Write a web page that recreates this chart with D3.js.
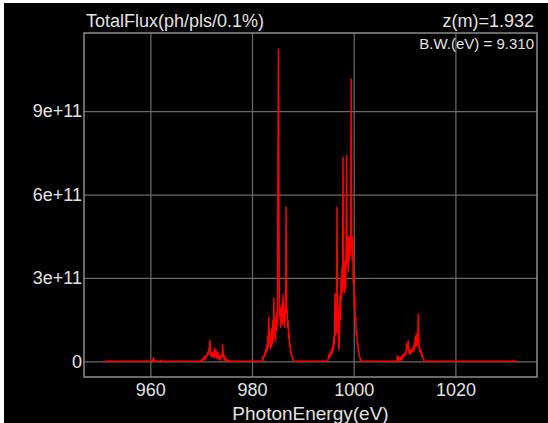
<!DOCTYPE html>
<html>
<head>
<meta charset="utf-8">
<script src="https://cdn.jsdelivr.net/npm/d3@7"></script>
<style>
  html, body { margin: 0; padding: 0; background: #fff; }
  svg { display: block; }
  text { font-family: "Liberation Sans", Arial, Helvetica, sans-serif; fill: #e2e2e2; }
</style>
</head>
<body>
<svg id="chart" width="548" height="423"></svg>
<script>
// photon energy range of the scan (eV)
const energyRange = [951, 1032];
const energyStep = 0.1;

// flux in units of 1e11 ph/pls/0.1%, each block starts at the given energy
const blip960Start = 960.4;
const blip960 = [0, 0.06, 0.14, 0.03, 0];
const blip962Start = 961.9;
const blip962 = [0, 0.03, 0.01, 0];

const peak972Start = 969.9;
const peak972 = [
  0, 0.03, 0.05, 0.04, 0.08, 0.06, 0.12, 0.09, 0.15, 0.1,
  0.2, 0.14, 0.25, 0.18, 0.35, 0.22, 0.45, 0.3, 0.78, 0.4,
  0.2, 0.28, 0.15, 0.33, 0.18, 0.25, 0.12, 0.5, 0.2, 0.15,
  0.43, 0.22, 0.1, 0.18, 0.33, 0.12, 0.08, 0.15, 0.1, 0.2,
  0.12, 0.25, 0.15, 0.62, 0.35, 0.2, 0.1, 0.15, 0.06, 0.1,
  0.04, 0.06, 0.02, 0.04, 0.02, 0.01, 0.02, 0
];

const peak985Start = 981.9;
const peak985 = [
  0, 0.05, 0.12, 0.08, 0.2, 0.15, 0.3, 0.22, 0.45, 0.3,
  0.6, 0.4, 0.9, 0.5, 1.6, 0.7, 1.1, 0.45, 0.8, 0.5,
  1.2, 0.6, 1.5, 0.8, 2.3, 1.0, 1.4, 0.7, 1.6, 1.1,
  1.8, 1.3, 7.1, 11.25, 5.0, 1.6, 2.0, 1.2, 1.9, 1.4,
  2.1, 1.3, 2.4, 1.5, 1.9, 1.2, 1.8, 2.2, 5.56, 1.7,
  1.9, 1.2, 1.5, 0.8, 1.0, 0.5, 0.6, 0.3, 0.35, 0.15,
  0.2, 0.08, 0.06, 0.02, 0
];

const peak999Start = 994.8;
const peak999 = [
  0, 0.05, 0.1, 0.25, 0.12, 0.3, 0.2, 0.35, 0.25, 0.45,
  0.3, 0.6, 0.4, 0.9, 0.6, 2.45, 0.9, 1.5, 1.0, 5.56,
  1.5, 2.0, 0.7, 0.4, 1.2, 2.4, 1.5, 3.0, 2.2, 3.4,
  2.5, 7.36, 2.8, 3.2, 2.45, 3.6, 2.6, 4.0, 7.42, 3.5,
  4.3, 3.2, 4.5, 3.6, 4.5, 3.8, 4.4, 10.18, 4.5, 3.6,
  4.5, 2.8, 3.2, 1.95, 2.4, 1.4, 1.6, 0.9, 1.1, 0.6,
  0.7, 0.35, 0.4, 0.2, 0.15, 0.08, 0.05, 0.02, 0
];

const peak1012Start = 1008.4;
const peak1012 = [
  0, 0.05, 0.22, 0.08, 0.12, 0.05, 0.1, 0.06, 0.12, 0.08,
  0.15, 0.1, 0.18, 0.12, 0.25, 0.18, 0.3, 0.2, 0.35, 0.28,
  0.64, 0.4, 0.5, 0.76, 0.4, 0.3, 0.35, 0.25, 0.4, 0.3,
  0.46, 0.32, 0.42, 0.35, 0.6, 0.4, 0.55, 0.9, 0.5, 1.0,
  0.6, 0.55, 0.8, 1.72, 0.7, 0.55, 0.33, 0.45, 0.3, 0.33,
  0.18, 0.2, 0.1, 0.08, 0.03, 0
];

const xTicks = [960, 980, 1000, 1020];
const yTicks = [0, 3e11, 6e11, 9e11];

const blocks = [
  [blip960Start, blip960], [blip962Start, blip962], [peak972Start, peak972],
  [peak985Start, peak985], [peak999Start, peak999], [peak1012Start, peak1012]
];

let data = [{ e: energyRange[0], f: 0 }];
blocks.forEach(([start, vals]) => {
  vals.forEach((v, i) => data.push({ e: +(start + i * energyStep).toFixed(2), f: v * 1e11 }));
});
data.push({ e: energyRange[1], f: 0 });

const W = 548, H = 423;
const margin = { left: 84, right: 11, top: 33, bottom: 46 };
const innerW = W - margin.left - margin.right;
const innerH = H - margin.top - margin.bottom;

const svg = d3.select('#chart');

svg.append('rect')
  .attr('x', 4).attr('y', 3)
  .attr('width', W - 4).attr('height', H - 3)
  .attr('fill', '#000');

// 5% padding on both axes
const eSpan = energyRange[1] - energyRange[0];
const fMax = d3.max(data, d => d.f);
const x = d3.scaleLinear()
  .domain([energyRange[0] - 0.05 * eSpan, energyRange[1] + 0.05 * eSpan])
  .range([0, innerW]);
const y = d3.scaleLinear()
  .domain([-0.05 * fMax, 1.05 * fMax])
  .range([innerH, 0]);

const g = svg.append('g').attr('transform', `translate(${margin.left},${margin.top})`);

const yAxis = d3.axisLeft(y)
  .tickValues(yTicks)
  .tickSize(-innerW)
  .tickPadding(2)
  .tickFormat(d => d === 0 ? '0' : d3.format('.0e')(d));

const xAxis = d3.axisBottom(x)
  .tickValues(xTicks)
  .tickSize(-innerH)
  .tickPadding(6)
  .tickFormat(d3.format('d'));

const gy = g.append('g').call(yAxis);
const gx = g.append('g').attr('transform', `translate(0,${innerH})`).call(xAxis);

[gx, gy].forEach(a => {
  a.select('.domain').remove();
  a.selectAll('line').attr('stroke', '#6a6a6a').attr('stroke-width', 1.2);
  a.selectAll('text').attr('fill', '#e2e2e2').attr('font-size', 18)
    .attr('font-family', '"Liberation Sans", Arial, sans-serif');
});

g.append('clipPath').attr('id', 'plotclip')
  .append('rect').attr('width', innerW).attr('height', innerH);

const line = d3.line().x(d => x(d.e)).y(d => y(d.f));

g.append('path')
  .datum(data)
  .attr('clip-path', 'url(#plotclip)')
  .attr('fill', 'none')
  .attr('stroke', '#ff0000')
  .attr('stroke-width', 1.5)
  .attr('d', line);

g.append('rect')
  .attr('width', innerW).attr('height', innerH)
  .attr('fill', 'none')
  .attr('stroke', '#8c8c8c')
  .attr('stroke-width', 1.5);

svg.append('text')
  .attr('x', 86).attr('y', 27)
  .attr('font-size', 18)
  .text('TotalFlux(ph/pls/0.1%)');

svg.append('text')
  .attr('x', 534).attr('y', 27)
  .attr('font-size', 18)
  .attr('text-anchor', 'end')
  .text('z(m)=1.932');

svg.append('text')
  .attr('x', 534).attr('y', 49)
  .attr('font-size', 15)
  .attr('text-anchor', 'end')
  .text('B.W.(eV) = 9.310');

svg.append('text')
  .attr('x', margin.left + innerW / 2).attr('y', 420)
  .attr('font-size', 19)
  .attr('text-anchor', 'middle')
  .text('PhotonEnergy(eV)');
</script>
</body>
</html>
